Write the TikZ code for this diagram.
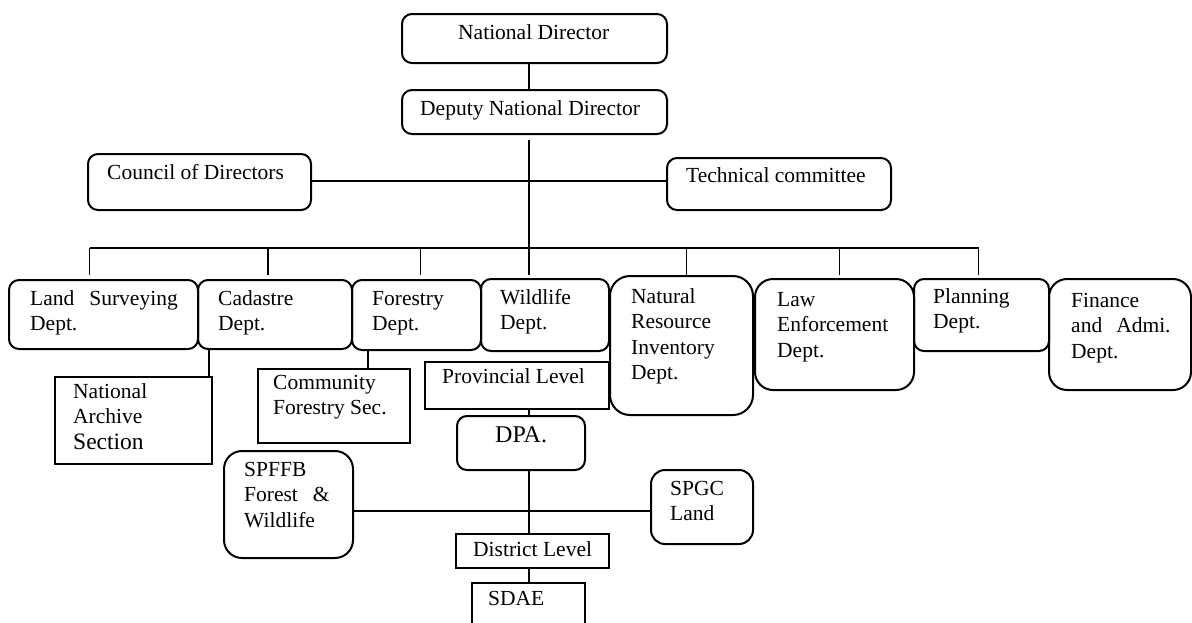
\documentclass[tikz,border=0pt]{standalone}
\usepackage{fontspec}
\setmainfont{Liberation Serif}
\usepackage{tikz}
\usetikzlibrary{positioning}
\tikzset{
  unit box/.style={
    draw=black,
    line width=2pt,
    rounded corners=10pt,
    anchor=north west,
    inner sep=0pt
  },
  sec box/.style={
    draw=black,
    line width=2pt,
    anchor=north west,
    inner sep=0pt
  },
  link/.style={
    draw=black,
    line width=1.8pt
  },
  box text/.style={
    font=\fontsize{21.5}{25.5}\selectfont,
    inner sep=0pt,
    anchor=base west
  },
  txt/.style n args={3}{
    label={[box text, xshift=#1pt, yshift=-#2pt]north west:{\begin{tabular}[t]{@{}l@{}}#3\end{tabular}}}
  }
}

\begin{document}
\begin{tikzpicture}[x=1pt, y=-1pt]
    \clip (0,0) rectangle (1192,622);

    % --- national level ---
    \node[unit box, minimum width=265pt, minimum height=49pt, txt={57}{26}{National Director}] (nd) at (401,13) {};
    \node[unit box, minimum width=265pt, minimum height=44pt, txt={19}{26}{Deputy National Director}] (dnd) at (401,89) {};
    \node[unit box, minimum width=223pt, minimum height=56pt, txt={20}{26}{Council of Directors}] (cod) at (87,153) {};
    \node[unit box, minimum width=224pt, minimum height=52pt, txt={20}{25}{Technical committee}] (tc) at (666,157) {};

    % --- departments ---
    \node[unit box, minimum width=189pt, minimum height=69pt, txt={22}{26}{Land\hspace{15pt}Surveying\\Dept.}] (ls) at (8,279) {};
    \node[unit box, minimum width=154pt, minimum height=69pt, txt={21}{26}{Cadastre\\Dept.}] (cad) at (197,279) {};
    \node[unit box, minimum width=129pt, minimum height=70pt, txt={21}{26}{Forestry\\Dept.}] (fo) at (351,279) {};
    \node[unit box, minimum width=128pt, minimum height=72pt, txt={20}{26}{Wildlife\\Dept.}] (wl) at (480,278) {};
    \node[unit box, rounded corners=20pt, minimum width=143pt, minimum height=139pt, txt={22}{28}{Natural\\Resource\\Inventory\\Dept.}] (nri) at (609,275) {};
    \node[unit box, rounded corners=18pt, minimum width=159pt, minimum height=111pt, txt={23}{28}{Law\\Enforcement\\Dept.}] (law) at (754,278) {};
    \node[unit box, minimum width=135pt, minimum height=72pt, txt={20}{25}{Planning\\Dept.}] (plan) at (913,278) {};
    \node[unit box, rounded corners=18pt, minimum width=142pt, minimum height=111pt, txt={23}{29}{Finance\\and\hspace{14pt}Admi.\\Dept.}] (fin) at (1048,278) {};

    % --- sections ---
    \node[sec box, minimum width=157pt, minimum height=87pt, txt={19}{22}{National\\Archive\\{\fontsize{23.5}{27}\selectfont Section}}] (nas) at (54,376) {};
    \node[sec box, minimum width=152pt, minimum height=74pt, txt={16}{21}{Community\\Forestry Sec.}] (cfs) at (257,368) {};

    % --- provincial and district level ---
    \node[sec box, minimum width=184pt, minimum height=47pt, txt={18}{22}{Provincial Level}] (pl) at (424,361) {};
    \node[unit box, minimum width=128pt, minimum height=54pt,
          label={[box text, font=\fontsize{24}{28}\selectfont, xshift=39pt, yshift=-27pt]north west:{DPA.}}] (dpa) at (456,415) {};
    \node[unit box, rounded corners=18pt, minimum width=129pt, minimum height=107pt, txt={21}{26}{SPFFB\\Forest\hspace{15pt}\&\\Wildlife}] (spf) at (223,450) {};
    \node[unit box, rounded corners=14pt, minimum width=102pt, minimum height=74pt, txt={20}{26}{SPGC\\Land}] (spgc) at (650,469) {};
    \node[sec box, minimum width=153pt, minimum height=34pt, txt={18}{23}{District Level}] (dl) at (455,533) {};
    \node[sec box, minimum width=113pt, minimum height=70pt, txt={17}{23}{SDAE}] (sdae) at (471,582) {};

    % --- connectors ---
    \coordinate (ax) at (529,0);
    \coordinate (mid) at (0,181);
    \coordinate (bus) at (0,248);
    \coordinate (drop) at (0,275);
    \coordinate (lvl) at (0,511);

    \draw[link] (nd.south -| ax) -- (dnd.north -| ax);
    \draw[link] ([yshift=-5pt]dnd.south -| ax) -- (drop -| ax);
    \draw[link] (cod.east |- mid) -- (tc.west |- mid);
    \draw[link] ([xshift=-14pt]ls.north |- bus) -- ([xshift=-3pt]plan.north |- bus);
    \foreach \n/\dx in {ls/-14, cad/-7, fo/4, nri/5, law/5, plan/-3}
      \draw[link] ([xshift=\dx pt]\n.north |- bus) -- ([xshift=\dx pt]\n.north |- drop);

    \draw[link] ([xshift=-4pt]nas.north east |- cad.south) -- ([xshift=-4pt]nas.north east);
    \draw[link] ([xshift=17pt]fo.south west) -- ([xshift=17pt]fo.south west |- cfs.north);

    \draw[link] (pl.south -| ax) -- (dpa.north -| ax);
    \draw[link] (dpa.south -| ax) -- (dl.north -| ax);
    \draw[link] (spf.east |- lvl) -- (spgc.west |- lvl);
    \draw[link] (dl.south -| ax) -- (sdae.north -| ax);

  \end{tikzpicture}
\end{document}
